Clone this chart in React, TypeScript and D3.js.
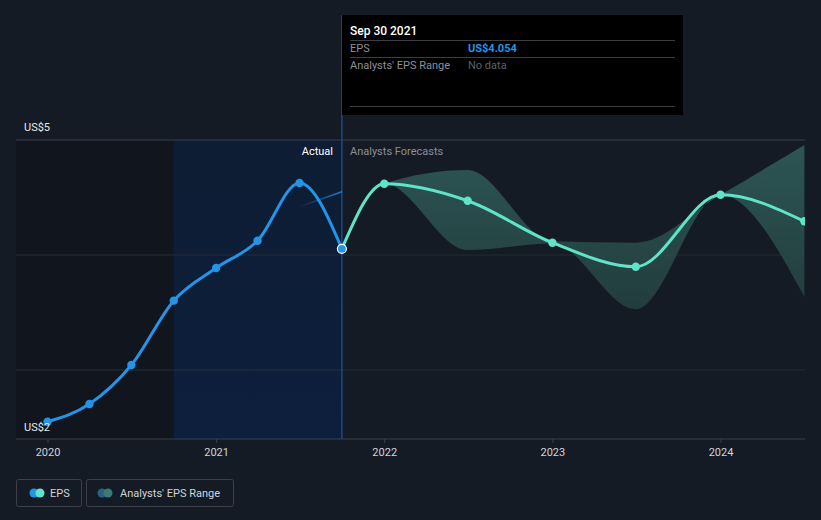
import React from "react";
import * as d3 from "d3";

const actualDates = ["2019-12-31", "2020-03-31", "2020-06-30", "2020-09-30", "2020-12-31", "2021-03-31", "2021-06-30", "2021-09-30"];
const actualEps = [2.55, 2.704, 3.043, 3.603, 3.887, 4.124, 4.626, 4.054];

const forecastDates = ["2021-09-30", "2021-12-31", "2022-06-30", "2022-12-31", "2023-06-30", "2023-12-31", "2024-06-30"];
const forecastEps = [4.054, 4.62, 4.472, 4.107, 3.898, 4.524, 4.293];
const rangeHigh = [4.054, 4.62, 4.739, 4.12, 4.107, 4.524, 4.957];
const rangeLow = [4.054, 4.62, 4.043, 4.1, 3.528, 4.524, 3.637];

const pastEstDates = ["2021-06-30", "2021-09-30"];
const pastEstEps = [4.42, 4.55];

const yearTicks = [2020, 2021, 2022, 2023, 2024];
const yLabels = [{ v: 5, t: "US$5" }, { v: 2, t: "US$2" }];
const gridValues = [3, 4, 5];

const W = 821;
const H = 520;
const pd = (s: string) => new Date(s + "T00:00:00");

export default function App() {
  const x = d3.scaleTime().domain([new Date(2020, 0, 1), new Date(2024, 0, 1)]).range([48, 721]);
  const y = d3.scaleLinear().domain([2, 5]).range([485, 140]);
  const left = 16, right = 805, axisY = 439, top = 140;
  const font = "Roboto, 'Open Sans', sans-serif";

  const actual = actualDates.map((d, i) => ({ d: pd(d), v: actualEps[i] }));
  const fc = forecastDates.map((d, i) => ({ d: pd(d), v: forecastEps[i], hi: rangeHigh[i], lo: rangeLow[i] }));
  const past = pastEstDates.map((d, i) => ({ d: pd(d), v: pastEstEps[i] }));

  const line = d3.line<{ d: Date; v: number }>().x(p => x(p.d)).y(p => y(p.v)).curve(d3.curveMonotoneX);
  const area = d3.area<{ d: Date; hi: number; lo: number }>()
    .x(p => x(p.d)).y0(p => y(p.lo)).y1(p => y(p.hi)).curve(d3.curveMonotoneX);

  const hlStart = x(pd("2020-09-30"));
  const cursor = x(pd("2021-09-30"));
  const last = actual[actual.length - 1];

  return (
    <svg width={W} height={H} style={{ position: "absolute", left: 0, top: 0, display: "block", background: "#151b25" }} fontFamily={font}>
      <defs>
        <linearGradient id="hl" x1="0" y1="0" x2="0" y2="1">
          <stop offset="0" stopColor="#0e1d33" />
          <stop offset="1" stopColor="#0c1f3d" />
        </linearGradient>
        <linearGradient id="rangeFill" x1="0" y1="0" x2="0" y2="1">
          <stop offset="0" stopColor="#2f5c5a" />
          <stop offset="1" stopColor="#24403f" />
        </linearGradient>
        <linearGradient id="pastGrad" x1="0" y1="0" x2="1" y2="0">
          <stop offset="0" stopColor="#2188e0" stopOpacity="0" />
          <stop offset="1" stopColor="#2188e0" stopOpacity="0.9" />
        </linearGradient>
        <clipPath id="plot">
          <rect x={left} y={0} width={right - left} height={axisY} />
        </clipPath>
      </defs>
      <rect x={0} y={0} width={W} height={H} fill="#151b25" />
      {/* past dark region */}
      <rect x={left} y={top} width={hlStart - left} height={axisY - top} fill="#11161e" />
      {/* highlighted region */}
      <rect x={hlStart} y={top} width={cursor - hlStart} height={axisY - top} fill="url(#hl)" />
      {/* grid */}
      {gridValues.map(g => (
        <line key={g} x1={left} x2={right} y1={y(g)} y2={y(g)} stroke={g === 5 ? "#3b404a" : "#262c36"} strokeWidth={1} />
      ))}
      {/* axis */}
      <line x1={left} x2={right} y1={axisY} y2={axisY} stroke="#3b404a" strokeWidth={1} />
      {yearTicks.map(yr => {
        const xx = x(new Date(yr, 0, 1));
        return (
          <g key={yr}>
            <line x1={xx} x2={xx} y1={axisY} y2={axisY + 4} stroke="#3b404a" />
            <text x={xx} y={456} fontSize={11} fill="#d0d3d8" textAnchor="middle">{yr}</text>
          </g>
        );
      })}
      {/* cursor line */}
      <line x1={cursor} x2={cursor} y1={15} y2={axisY} stroke="#1d4a85" strokeWidth={1.5} />
      <g clipPath="url(#plot)">
        <path d={area(fc) || ""} fill="url(#rangeFill)" opacity={0.9} />
        <path d={line(past) || ""} fill="none" stroke="url(#pastGrad)" strokeWidth={1.5} />
        <path d={line(actual) || ""} fill="none" stroke="#2394e8" strokeWidth={3} />
        <path d={line(fc) || ""} fill="none" stroke="#5fe3c9" strokeWidth={3} />
        {actual.slice(0, -1).map((p, i) => (
          <circle key={"a" + i} cx={x(p.d)} cy={y(p.v)} r={4.2} fill="#2394e8" />
        ))}
        {fc.slice(1).map((p, i) => (
          <circle key={"f" + i} cx={x(p.d)} cy={y(p.v)} r={4.2} fill="#5fe3c9" />
        ))}
        <circle cx={x(last.d)} cy={y(last.v)} r={4.5} fill="#2394e8" stroke="#ffffff" strokeWidth={1.2} />
      </g>
      {/* y labels */}
      {yLabels.map(l => (
        <text key={l.t} x={24} y={l.v === 5 ? 131 : 431} fontSize={11} fill="#e6e8eb">{l.t}</text>
      ))}
      <text x={333} y={155} fontSize={11} fill="#ffffff" textAnchor="end">Actual</text>
      <text x={350} y={155} fontSize={11} fill="#8a8f98">Analysts Forecasts</text>
      {/* tooltip */}
      <rect x={342} y={15} width={341} height={100} fill="#000000" />
      <text x={350} y={35} fontSize={12} fontWeight={500} fill="#ffffff">Sep 30 2021</text>
      <line x1={350} x2={675} y1={40.5} y2={40.5} stroke="#3a3d42" />
      <text x={350} y={52} fontSize={11} fill="#8a8f98">EPS</text>
      <text x={468} y={52} fontSize={11} fontWeight={700} fill="#2394e8">US$4.054</text>
      <line x1={350} x2={675} y1={57.5} y2={57.5} stroke="#3a3d42" />
      <text x={350} y={69} fontSize={11} fill="#8a8f98">Analysts' EPS Range</text>
      <text x={468} y={69} fontSize={11} fill="#5c6068">No data</text>
      <line x1={350} x2={675} y1={106.5} y2={106.5} stroke="#3a3d42" />
      {/* legend */}
      <rect x={16.5} y={479.5} width={65} height={27} rx={2} fill="none" stroke="#3b404a" />
      <circle cx={34} cy={493} r={4.5} fill="#2394e8" />
      <circle cx={40} cy={493} r={4.5} fill="#5fe3c9" />
      <text x={50} y={497} fontSize={11} fill="#d0d3d8">EPS</text>
      <rect x={86.5} y={479.5} width={147} height={27} rx={2} fill="none" stroke="#3b404a" />
      <circle cx={102} cy={493} r={4.5} fill="#2b5f86" />
      <circle cx={108} cy={493} r={4.5} fill="#3b7a75" />
      <text x={120} y={497} fontSize={11} fill="#d0d3d8">Analysts' EPS Range</text>
    </svg>
  );
}
